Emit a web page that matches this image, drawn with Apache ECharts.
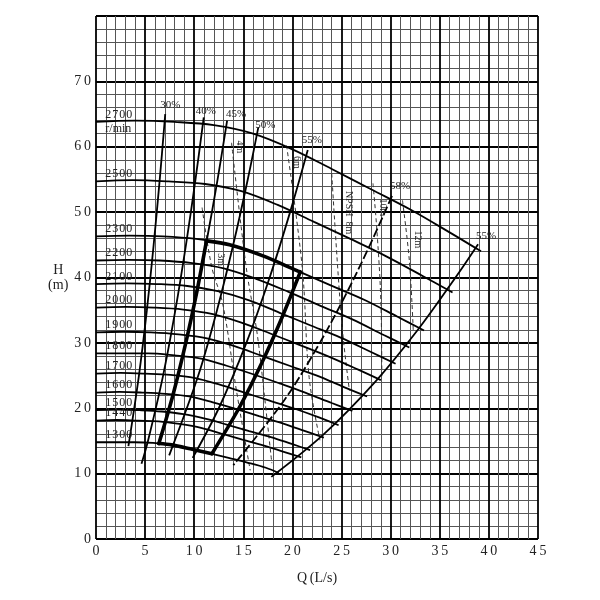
<!DOCTYPE html>
<html><head><meta charset="utf-8">
<script src="https://cdn.jsdelivr.net/npm/echarts@6.0.0/dist/echarts.min.js"></script>
<style>html,body{margin:0;padding:0;background:#fff}#c{width:600px;height:600px}</style>
</head><body><div id="c"></div>
<script>
// ---- Speed (r/min) H-Q curves: [Q (L/s), H (m)]
const speedNames = ['2700','2500','2300','2200','2100','2000','1900','1800','1700','1600','1500','1440','1300'];
const s2700 = [[0,63.8],[4,64],[8,63.8],[12,63.3],[16,62],[20,59.6],[24,56.6],[28,53.5],[32,50.4],[36,46.9],[39.2,44]];
const s2500 = [[0,54.7],[3.7,54.9],[7.4,54.7],[11.1,54.3],[14.8,53.2],[18.5,51.1],[22.2,48.5],[25.9,45.9],[29.6,43.2],[33.3,40.2],[36.3,37.7]];
const s2300 = [[0,46.3],[3.4,46.4],[6.8,46.3],[10.2,45.9],[13.6,45.0],[17.0,43.3],[20.4,41.1],[23.9,38.8],[27.3,36.6],[30.7,34.0],[33.4,31.9]];
const s2200 = [[0,42.6],[3.3,42.7],[6.5,42.6],[9.8,42.2],[13.0,41.4],[16.3,39.8],[19.6,37.8],[22.8,35.7],[26.1,33.6],[29.3,31.2],[31.9,29.3]];
const s2100 = [[0,39.0],[3.1,39.1],[6.2,39.0],[9.3,38.7],[12.4,37.9],[15.6,36.5],[18.7,34.6],[21.8,32.7],[24.9,30.8],[28.0,28.6],[30.5,26.8]];
const s2000 = [[0,35.4],[3.0,35.5],[5.9,35.4],[8.9,35.1],[11.9,34.4],[14.8,33.1],[17.8,31.4],[20.7,29.7],[23.7,27.9],[26.7,25.9],[29.0,24.3]];
const s1900 = [[0,31.6],[2.8,31.7],[5.6,31.6],[8.4,31.3],[11.3,30.7],[14.1,29.5],[16.9,28.0],[19.7,26.5],[22.5,25.0],[25.3,23.2],[27.6,21.8]];
const s1800 = [[0,28.4],[2.7,28.4],[5.3,28.4],[8.0,28.1],[10.7,27.6],[13.3,26.5],[16.0,25.2],[18.7,23.8],[21.3,22.4],[24.0,20.8],[26.1,19.6]];
const s1700 = [[0,25.3],[2.5,25.4],[5.0,25.3],[7.6,25.1],[10.1,24.6],[12.6,23.6],[15.1,22.4],[17.6,21.2],[20.1,20.0],[22.7,18.6],[24.7,17.4]];
const s1600 = [[0,22.4],[2.4,22.5],[4.7,22.4],[7.1,22.2],[9.5,21.8],[11.9,20.9],[14.2,19.9],[16.6,18.8],[19.0,17.7],[21.3,16.5],[23.2,15.5]];
const s1500 = [[0,19.7],[2.2,19.8],[4.4,19.7],[6.7,19.5],[8.9,19.1],[11.1,18.4],[13.3,17.5],[15.6,16.5],[17.8,15.6],[20.0,14.5],[21.8,13.6]];
const s1440 = [[0,18.1],[2.1,18.2],[4.3,18.1],[6.4,18.0],[8.5,17.6],[10.7,17.0],[12.8,16.1],[14.9,15.2],[17.1,14.3],[19.2,13.3],[20.9,12.5]];
const s1300 = [[0,14.8],[1.9,14.8],[3.9,14.8],[5.8,14.7],[7.7,14.4],[9.6,13.8],[11.6,13.1],[13.5,12.4],[15.4,11.7],[17.3,10.9],[18.6,10.1]];
const speedCurves = [s2700,s2500,s2300,s2200,s2100,s2000,s1900,s1800,s1700,s1600,s1500,s1440,s1300];

// ---- Iso-efficiency curves
const effNames = ['30%','40%','45%','50%','55%','58%','55%'];
const e30 = [[7.05,65],[6.49,55],[5.87,45],[5.18,35],[4.37,25],[3.30,14.2]];
const e40 = [[10.97,64.5],[10.13,55],[9.16,45],[8.08,35],[6.83,25],[5.29,15],[4.63,11.5]];
const e45 = [[13.35,64],[12.38,55],[11.22,45.2],[10.29,38],[9.14,30],[7.83,22],[6.38,14.6]];
const e50 = [[16.53,63],[15.45,55],[13.97,45],[12.32,35],[10.41,25],[7.45,12.8]];
const e55 = [[21.56,59.5],[19.76,50],[17.68,40],[15.31,30],[12.5,20],[9.84,12.4]];
const e58 = [[30.14,52.5],[27.9,45],[25.3,37],[22.4,29],[19.06,21],[13.98,11.3]];
const e55b = [[38.9,45.1],[36.6,40],[32.77,32],[28.4,24],[23.17,16],[17.85,9.5]];
const effCurves = [e30,e40,e45,e50,e55,e58,e55b];

// ---- NPSH required (dashed)
const npshNames = ['3m','4m','6m','NPSH  8m','10m','12m'];
const n3 = [[10.8,50.7],[11.8,41.5],[12.9,36.0],[14.3,22.7],[15.7,10.5]];
const n4 = [[13.8,60.6],[15.3,41.5],[16.4,31.5],[17.2,21.2],[17.9,11.6]];
const n6 = [[19.4,60.2],[21.0,41.5],[21.7,24.7],[22.8,15.1]];
const n8 = [[24.0,55.9],[25.0,33.4],[25.8,22.7]];
const n10 = [[28.2,54.4],[28.6,47.2],[29.0,36.5],[29.1,24.6]];
const n12 = [[31.2,51.8],[31.9,42.6],[32.3,31.9]];
const npshCurves = [n3,n4,n6,n8,n10,n12];

// ---- Operating range (bold outline)
const rangeTop = [[11.25,45.6],[13.6,45.0],[17.0,43.3],[20.4,41.1],[20.8,40.85]];
const rangeRight = [[20.8,40.85],[18.97,34],[16.9,27],[14.55,20],[11.8,13.05]];
const rangeBottom = [[11.8,13.05],[9.6,13.8],[7.7,14.4],[6.4,14.6]];
const rangeLeft = [[6.4,14.6],[7.83,22],[9.14,30],[10.29,38],[11.25,45.6]];

// ---- styling (kept separate from data)
const FONT = 'Liberation Serif';
const TXT = '#222';
const effOffsets = [[5,-3],[2,0],[9,0],[7,4],[4,-4],[8,-4],[8,-2]];
// desired [dx, dy] in screen pixels from the line's top point
const npshShift = [[19,52],[8,4],[10,17],[17,39],[10,24],[15,39]];
const spaced = s => String(s).split('').join('\u2009');
const hair = s => String(s).split('').join('\u200A');

function markLabel(coord, text, label) {
  return {
    symbol: 'rect', symbolSize: 1, silent: true,
    itemStyle: {color: 'rgba(0,0,0,0)'},
    data: [{coord: coord, value: text}],
    label: Object.assign({show: true, formatter: text, color: TXT, fontFamily: FONT}, label)
  };
}

const series = [];
speedCurves.forEach((d, i) => {
  const mp = markLabel([1.0, d[0][1]], hair(speedNames[i]),
    {fontSize: 12, position: [0, -1], align: 'left', verticalAlign: 'bottom'});
  if (i === 0) {
    mp.data.push({coord: [1.0, d[0][1]], value: 'r/min', label: {formatter: 'r/min', verticalAlign: 'top', position: [0, 1]}});
  }
  series.push({type: 'line', name: speedNames[i], data: d, smooth: 0.35, symbol: 'none',
    lineStyle: {color: '#000', width: 1.8}, z: 3, markPoint: mp});
});
effCurves.forEach((d, i) => {
  const mp = markLabel(d[0], effNames[i],
    {fontSize: 11, position: 'top', distance: 0, offset: effOffsets[i]});
  series.push({type: 'line', name: 'eff' + i, data: d, smooth: 0.35, symbol: 'none',
    lineStyle: {color: '#000', width: 1.8, type: i === 5 ? [9, 3] : 'solid'}, z: 3, markPoint: mp});
});
npshCurves.forEach((d, i) => {
  const s = npshShift[i];
  const mp = markLabel(d[0], npshNames[i],
    {fontSize: 10, position: 'inside', rotate: -90, offset: [s[1], -s[0]]});
  series.push({type: 'line', name: 'npsh' + i, data: d, smooth: 0.35, symbol: 'none',
    lineStyle: {color: '#333', width: 1, type: [4, 3]}, z: 2, markPoint: mp});
});
[rangeTop, rangeRight, rangeBottom, rangeLeft].forEach((d, i) => {
  series.push({type: 'line', name: 'range' + i, data: d, smooth: 0.3, symbol: 'none',
    lineStyle: {color: '#000', width: 3.6, cap: 'round', join: 'round'}, z: 4});
});

const axisLab = {color: TXT, fontFamily: FONT, fontSize: 14, margin: 5};
const chart = echarts.init(document.getElementById('c'), null, {renderer: 'canvas'});
chart.setOption({
  animation: false,
  backgroundColor: '#fff',
  grid: {left: 96, right: 62, top: 16, bottom: 61, containLabel: false},
  xAxis: {
    type: 'value', min: 0, max: 45, interval: 5,
    axisLine: {show: false}, axisTick: {show: false},
    axisLabel: Object.assign({formatter: v => spaced(v)}, axisLab),
    splitLine: {show: true, lineStyle: {color: '#000', width: 1.8}},
    minorTick: {show: false, splitNumber: 5},
    minorSplitLine: {show: true, lineStyle: {color: '#555', width: 1}},
    name: 'Q\u2009(L/s)', nameLocation: 'middle', nameGap: 32,
    nameTextStyle: {color: TXT, fontFamily: FONT, fontSize: 14}
  },
  yAxis: {
    type: 'value', min: 0, max: 80, interval: 10,
    axisLine: {show: false}, axisTick: {show: false},
    axisLabel: Object.assign({formatter: v => v === 80 ? '' : spaced(v)}, axisLab),
    splitLine: {show: true, lineStyle: {color: '#000', width: 1.8}},
    minorTick: {show: false, splitNumber: 5},
    minorSplitLine: {show: true, lineStyle: {color: '#555', width: 1}},
    name: 'H\n(m)', nameLocation: 'middle', nameRotate: 0, nameGap: 30,
    nameTextStyle: {color: TXT, fontFamily: FONT, fontSize: 14, lineHeight: 15, align: 'center'}
  },
  series: series
});
</script></body></html>
